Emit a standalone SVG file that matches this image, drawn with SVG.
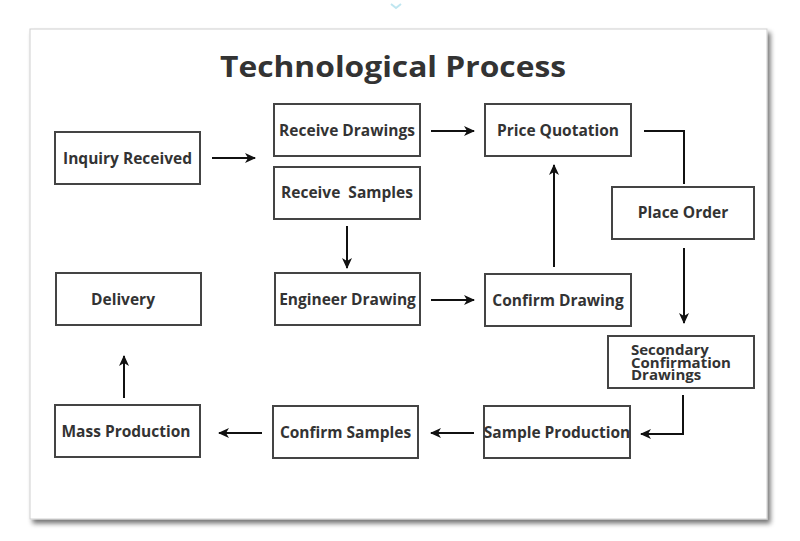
<svg xmlns="http://www.w3.org/2000/svg" width="800" height="541" viewBox="0 0 800 541">
<defs>
<filter id="sh" x="-5%" y="-5%" width="115%" height="115%">
<feGaussianBlur in="SourceAlpha" stdDeviation="2.5"/>
<feOffset dx="3" dy="4" result="b"/>
<feComponentTransfer><feFuncA type="linear" slope="0.55"/></feComponentTransfer>
<feMerge><feMergeNode/><feMergeNode in="SourceGraphic"/></feMerge>
</filter>
<marker id="ah" viewBox="0 0 12 12" refX="10" refY="6" markerWidth="12" markerHeight="12" markerUnits="userSpaceOnUse" orient="auto">
<path d="M0,1 L11,6 L0,11 L3,6 Z" fill="#111"/>
</marker>
</defs>
<style>
.box{fill:#fff;stroke:#444;stroke-width:2}
.lbl{font-family:"Open Sans","Noto Sans",sans-serif;font-weight:700;font-size:15.5px;fill:#333;text-anchor:middle}
.con{fill:none;stroke:#111;stroke-width:2}
.arr{marker-end:url(#ah)}
</style>
<rect width="800" height="541" fill="#fff"/>
<path d="M391,4 L396,8 L401,4" fill="none" stroke="#bfe6f0" stroke-width="2"/>
<rect x="30" y="29" width="737" height="490" fill="#fff" stroke="#cfcfcf" stroke-width="1" filter="url(#sh)"/>
<text x="393" y="77" font-family="'Open Sans','Noto Sans',sans-serif" font-weight="700" font-size="28" fill="#333" text-anchor="middle" textLength="346" lengthAdjust="spacingAndGlyphs">Technological Process</text>

<g id="inquiry"><rect class="box" x="55" y="132" width="145" height="52"/><text class="lbl" x="127.5" y="164">Inquiry Received</text></g>
<g id="receive-drawings"><rect class="box" x="274" y="104" width="146" height="52"/><text class="lbl" x="347" y="136">Receive Drawings</text></g>
<g id="receive-samples"><rect class="box" x="274" y="167" width="146" height="52"/><text class="lbl" x="347" y="198" xml:space="preserve">Receive  Samples</text></g>
<g id="price-quotation"><rect class="box" x="485" y="104" width="146" height="52"/><text class="lbl" x="558" y="136">Price Quotation</text></g>
<g id="place-order"><rect class="box" x="612" y="187" width="142" height="52"/><text class="lbl" x="683" y="218">Place Order</text></g>
<g id="engineer-drawing"><rect class="box" x="275" y="273" width="145" height="52"/><text class="lbl" x="347.5" y="305">Engineer Drawing</text></g>
<g id="confirm-drawing"><rect class="box" x="485" y="274" width="146" height="52"/><text class="lbl" x="558" y="306">Confirm Drawing</text></g>
<g id="delivery"><rect class="box" x="56" y="273" width="145" height="52"/><text class="lbl" x="123" y="305">Delivery</text></g>
<g id="secondary"><rect class="box" x="608" y="336" width="146" height="52"/><text class="lbl" style="text-anchor:start;font-size:15px" x="631" y="355"><tspan x="631" y="355">Secondary</tspan><tspan x="631" y="367.5">Confirmation</tspan><tspan x="631" y="380">Drawings</tspan></text></g>
<g id="sample-production"><rect class="box" x="484" y="406" width="146" height="52"/><text class="lbl" x="557" y="438">Sample Production</text></g>
<g id="confirm-samples"><rect class="box" x="273" y="406" width="145" height="52"/><text class="lbl" x="345.5" y="438">Confirm Samples</text></g>
<g id="mass-production"><rect class="box" x="55" y="405" width="145" height="52"/><text class="lbl" x="126" y="437">Mass Production</text></g>

<g id="connectors">
<line class="con arr" x1="212" y1="158" x2="255" y2="158"/>
<line class="con arr" x1="431" y1="131" x2="474" y2="131"/>
<line class="con arr" x1="347" y1="226" x2="347" y2="268"/>
<line class="con arr" x1="431" y1="300" x2="474" y2="300"/>
<line class="con arr" x1="554" y1="267" x2="554" y2="165"/>
<polyline class="con" points="644,131 684,131 684,184"/>
<line class="con arr" x1="684" y1="248" x2="684" y2="323"/>
<polyline class="con arr" points="683,395 683,434 641,434"/>
<line class="con arr" x1="474" y1="433" x2="431" y2="433"/>
<line class="con arr" x1="262" y1="433" x2="219" y2="433"/>
<line class="con arr" x1="124" y1="398" x2="124" y2="356"/>
</g>
</svg>
